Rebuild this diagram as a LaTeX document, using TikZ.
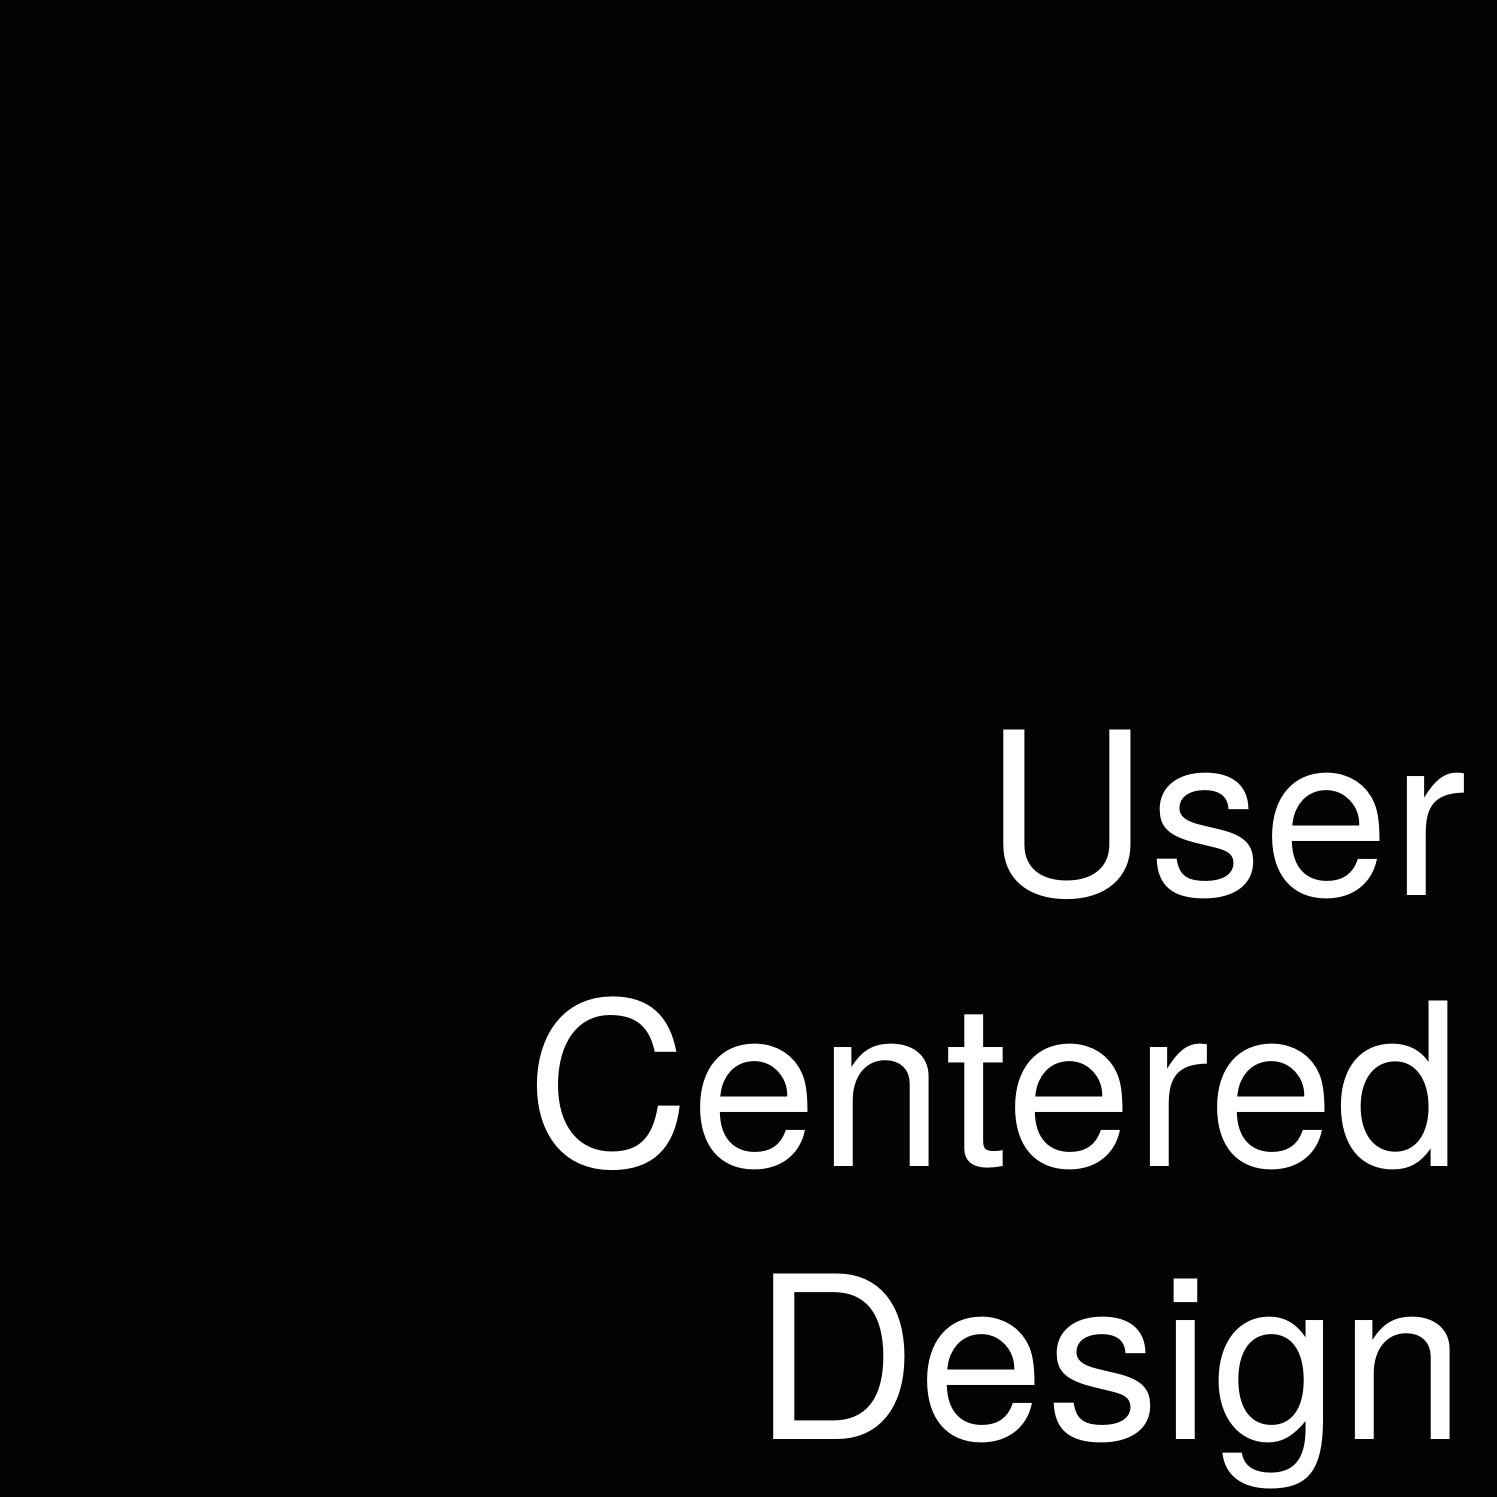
\documentclass[tikz,border=0pt]{standalone}
\usepackage{fontspec}
\setmainfont{TeX Gyre Heros}[LetterSpace=0.5]
\definecolor{bg}{RGB}{3,3,5}
\begin{document}
\begin{tikzpicture}[x=1cm,y=1cm,
  word/.style={text=white,inner sep=0pt,outer sep=0pt,anchor=base west,
    font=\fontsize{64.6pt}{77pt}\selectfont}]
\fill[bg] (0,0) rectangle (14.97,14.97);
\useasboundingbox (0,0) rectangle (14.97,14.97);
\node[word] (user) at (9.841,6.01) {User};
\node[word] (centered) at (5.26,3.30) {Centered};
\node[word] (design) at (7.536,0.58) {Design};
\end{tikzpicture}
\end{document}
